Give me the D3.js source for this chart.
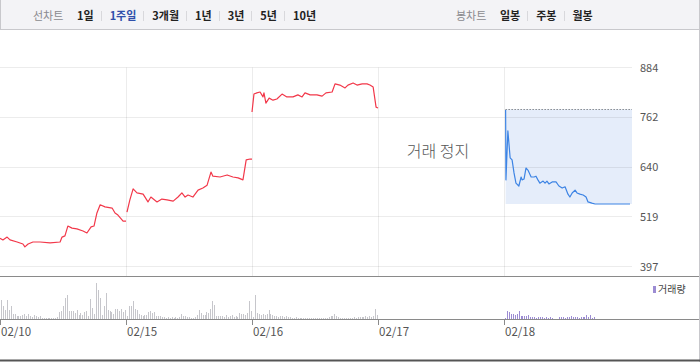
<!DOCTYPE html>
<html>
<head>
<meta charset="utf-8">
<script src="https://cdn.jsdelivr.net/npm/d3@7"></script>
<style>
	body { margin: 0; background: #fff; }
	svg { display: block; font-family: "Noto Sans CJK KR", "Noto Sans", sans-serif; }
</style>
</head>
<body>
<svg id="chart" width="700" height="362"></svg>
<script>
const dayLabels = ["02/10", "02/15", "02/16", "02/17", "02/18"];
const priceTicks = [397, 519, 640, 762, 884];
const periodButtons = ["1일", "1주일", "3개월", "1년", "3년", "5년", "10년"];
const candleButtons = ["일봉", "주봉", "월봉"];
const activePeriod = "1주일";
const lineChartLabel = "선차트";
const candleChartLabel = "봉차트";
const haltLabel = "거래 정지";
const volumeLabel = "거래량";
const prevClose = 782;

// [minute of session, price]
const price0210 = [[0,466],[9,462],[22,469],[31,462],[53,457],[71,452],[77,445],[87,452],[102,457],[124,457],[155,455],[186,457],[192,469],[201,472],[210,496],[223,491],[238,489],[257,484],[269,479],[282,494],[291,496],[300,528],[310,548],[325,543],[347,540],[356,528],[365,523],[381,508],[390,508]];
const price0215 = [[3,530],[12,560],[22,587],[34,577],[53,574],[68,555],[77,567],[96,555],[111,562],[127,560],[146,557],[161,567],[173,577],[183,567],[192,572],[207,567],[223,584],[238,589],[251,596],[263,628],[269,618],[291,616],[313,621],[331,616],[347,614],[362,609],[372,658],[384,660],[390,660]];
const price0216 = [[0,775],[6,819],[15,822],[25,824],[34,812],[37,822],[43,797],[53,809],[65,804],[77,807],[93,819],[108,812],[127,812],[142,817],[155,812],[164,822],[180,817],[201,817],[217,814],[229,822],[248,824],[257,844],[272,841],[288,834],[297,841],[313,846],[325,841],[341,844],[356,844],[365,841],[375,836],[384,787],[390,785]];
const price0217 = [];
const price0218 = [[5,780],[6,609],[12,729],[19,663],[25,658],[31,626],[37,601],[46,594],[53,616],[56,609],[62,611],[68,638],[74,633],[84,616],[93,616],[99,618],[105,609],[111,601],[121,606],[127,601],[133,606],[139,599],[149,604],[161,604],[170,594],[180,589],[189,592],[198,574],[204,567],[211,577],[220,584],[226,577],[235,574],[245,572],[254,567],[260,555],[272,552],[282,550],[390,550]];

// volume per 6-minute bar
const vol0210 = [19,13,9,19,9,13,5,5,3,3,3,4,5,3,5,3,2,4,3,2,3,1,1,1,1,1,1,1,1,2,7,8,13,21,24,8,8,8,6,9,4,6,4,7,8,3,20,11,5,36,29,21,4,13,26,9,8,7,5,10,10,8,10,7,9];
const vol0215 = [3,13,13,18,10,9,5,4,3,4,4,7,8,6,7,3,3,3,2,2,1,2,1,2,1,2,1,2,5,3,3,2,2,1,1,2,4,9,6,4,4,7,6,10,18,14,3,3,3,3,2,4,2,3,4,2,3,2,6,5,5,4,6,18,8];
const vol0216 = [2,24,6,5,4,5,4,5,9,5,4,3,3,2,3,3,2,3,2,2,1,1,2,1,1,1,1,1,1,1,1,1,1,1,1,1,1,1,1,2,3,3,5,3,2,1,1,1,1,1,1,1,2,1,2,2,2,2,3,2,3,2,3,10,4];
const vol0217 = [];
const vol0218 = [1,8,7,5,5,4,5,8,3,3,3,3,4,2,2,2,1,2,2,2,1,2,1,2,1,0,0,0,2,2,2,1,2,2,3,2,2,2,1,2,2,2,4,2,4,1,2];

const priceDays = [price0210, price0215, price0216, price0217, price0218];
const volumeDays = [vol0210, vol0215, vol0216, vol0217, vol0218];
const sessionMinutes = 390;
const barMinutes = 6;
const haltDay = 3;

const svg = d3.select("#chart");
const W = 700, H = 362;
const plotRight = 632;

const x = d3.scaleLinear().domain([0, sessionMinutes * dayLabels.length]).range([0, 630]);
const y = d3.scaleLinear().domain([397, 884]).range([266.5, 67.5]);
const yVol = d3.scaleLinear().domain([0, 40]).range([319, 279]);
const crisp = v => Math.round(v) + 0.5;

// top button bar
const bar = svg.append("g");
bar.append("rect").attr("x", 0).attr("y", 0).attr("width", W).attr("height", 30).attr("fill", "#f3f3f6");
bar.append("line").attr("x1", 0).attr("x2", W).attr("y1", 29.5).attr("y2", 29.5).attr("stroke", "#c8c8cc");
bar.append("line").attr("x1", 0.5).attr("x2", 0.5).attr("y1", 0).attr("y2", 30).attr("stroke", "#c8c8cc");

const drawGroup = (title, items, startX, active) => {
	const t = bar.append("text").attr("x", startX).attr("y", 20)
		.attr("font-size", 11).attr("fill", "#8a8a8e").text(title);
	let cx = startX + 44;
	items.forEach((d, i) => {
		if (i > 0) {
			bar.append("line").attr("x1", crisp(cx + 7)).attr("x2", crisp(cx + 7))
				.attr("y1", 11).attr("y2", 21).attr("stroke", "#d8d8dc");
			cx += 16;
		}
		const b = bar.append("text").attr("x", cx).attr("y", 20)
			.attr("font-size", 11).attr("font-weight", "bold")
			.attr("fill", d === active ? "#2f4faa" : "#222").text(d);
		cx += b.node().getComputedTextLength();
	});
};
drawGroup(lineChartLabel, periodButtons, 33, activePeriod);
drawGroup(candleChartLabel, candleButtons, 456, null);

// last day band: previous close down to the low
const lastDay = priceDays.length - 1;
const lastPts = priceDays[lastDay];
const lastLow = d3.min(lastPts, d => d[1]);
const bandX0 = x(lastDay * sessionMinutes + lastPts[0][0]);
svg.append("rect")
	.attr("x", bandX0).attr("y", y(prevClose))
	.attr("width", plotRight - bandX0).attr("height", y(lastLow) - y(prevClose))
	.attr("fill", "#e5edfa");

// gridlines
const grid = svg.append("g");
grid.selectAll(".hg").data(priceTicks).join("line")
	.attr("x1", 0).attr("x2", plotRight)
	.attr("y1", d => crisp(y(d) - 0.5)).attr("y2", d => crisp(y(d) - 0.5))
	.attr("stroke", "#000").attr("stroke-opacity", 0.075);
grid.selectAll(".vg").data(dayLabels.slice(1)).join("line")
	.attr("x1", (d, i) => crisp(x((i + 1) * sessionMinutes)))
	.attr("x2", (d, i) => crisp(x((i + 1) * sessionMinutes)))
	.attr("y1", y(884)).attr("y2", 276)
	.attr("stroke", "#000").attr("stroke-opacity", 0.075);

svg.append("line")
	.attr("x1", bandX0).attr("x2", plotRight)
	.attr("y1", crisp(y(prevClose))).attr("y2", crisp(y(prevClose)))
	.attr("stroke", "#555").attr("stroke-dasharray", "1,2");

// right axis labels
svg.append("g").selectAll("text").data(priceTicks).join("text")
	.attr("x", 640).attr("y", d => y(d) + 4)
	.attr("font-size", 11).attr("fill", "#555")
	.text(d => d);

// price lines
const line = d3.line().x(d => x(d[0])).y(d => y(d[1]));
priceDays.forEach((pts, di) => {
	if (!pts.length) return;
	svg.append("path")
		.datum(pts.map(p => [di * sessionMinutes + p[0], p[1]]))
		.attr("d", line)
		.attr("fill", "none")
		.attr("stroke", di === lastDay ? "#3d84e4" : "#f2384a")
		.attr("stroke-width", 1.2)
		.attr("stroke-linejoin", "round");
});

// halt label
svg.append("text")
	.attr("x", x(haltDay * sessionMinutes + sessionMinutes / 2) - 3)
	.attr("y", 157)
	.attr("text-anchor", "middle")
	.attr("font-size", 16).attr("font-weight", 300).attr("fill", "#555")
	.text(haltLabel);

// separator and volume pane
svg.append("line").attr("x1", 0).attr("x2", W).attr("y1", 276.5).attr("y2", 276.5).attr("stroke", "#8a8a8a");

volumeDays.forEach((vals, di) => {
	svg.append("g").selectAll("rect").data(vals).join("rect")
		.attr("x", (d, i) => Math.round(x(di * sessionMinutes + i * barMinutes)) + 1)
		.attr("y", d => yVol(d))
		.attr("width", 1)
		.attr("height", d => yVol(0) - yVol(d))
		.attr("fill", di === lastDay ? "#9c8cd3" : "#c6c6cb");
});

svg.append("line").attr("x1", 0).attr("x2", W).attr("y1", 319.5).attr("y2", 319.5).attr("stroke", "#8a8a8a");

// volume legend
svg.append("rect").attr("x", 653).attr("y", 286).attr("width", 3).attr("height", 7).attr("fill", "#9c8cd3");
svg.append("text").attr("x", 658).attr("y", 293).attr("font-size", 10).attr("fill", "#444").text(volumeLabel);

// x axis ticks and labels
const xa = svg.append("g");
xa.selectAll("line").data(dayLabels).join("line")
	.attr("x1", (d, i) => crisp(x(i * sessionMinutes)))
	.attr("x2", (d, i) => crisp(x(i * sessionMinutes)))
	.attr("y1", 319).attr("y2", 325)
	.attr("stroke", "#8a8a8a");
xa.selectAll("text").data(dayLabels).join("text")
	.attr("x", (d, i) => x(i * sessionMinutes) + 1)
	.attr("y", 336)
	.attr("font-size", 11.5).attr("fill", "#555")
	.text(d => d);

// frame
svg.append("line").attr("x1", 699.5).attr("x2", 699.5).attr("y1", 0).attr("y2", H).attr("stroke", "#c8c8cc");
svg.append("rect").attr("x", 0).attr("y", 359.5).attr("width", W).attr("height", 2).attr("fill", "#555");
</script>
</body>
</html>
